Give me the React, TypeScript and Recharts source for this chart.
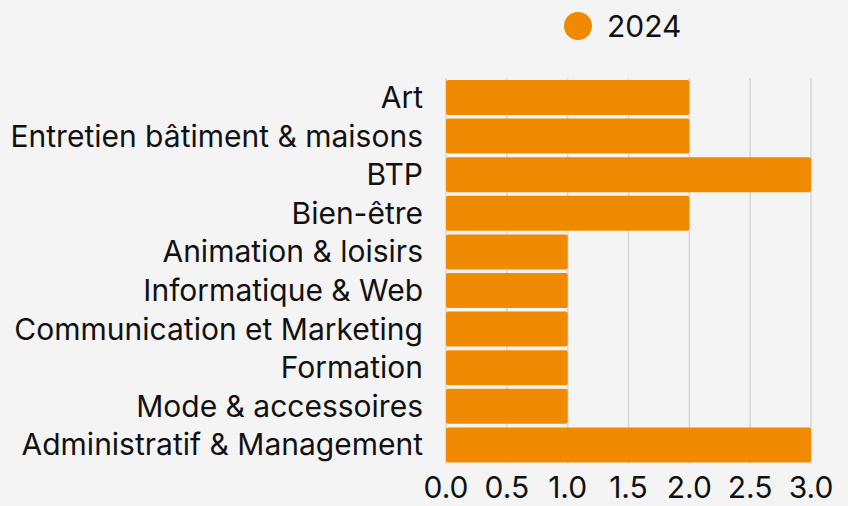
import { BarChart, Bar, XAxis, YAxis, CartesianGrid } from "recharts";

const categories = [
  "Art",
  "Entretien bâtiment & maisons",
  "BTP",
  "Bien-être",
  "Animation & loisirs",
  "Informatique & Web",
  "Communication et Marketing",
  "Formation",
  "Mode & accessoires",
  "Administratif & Management",
];
const values2024 = [2, 2, 3, 2, 1, 1, 1, 1, 1, 3];
const xTicks = [0, 0.5, 1, 1.5, 2, 2.5, 3];
const seriesName = "2024";

const ORANGE = "#f08a00";
const FONT = "Inter, sans-serif";

const data = categories.map((name, i) => ({ name, y2024: values2024[i] }));

export default function App() {
  return (
    <div style={{ position: "absolute", left: 0, top: 0, width: 848, height: 506, background: "#f4f4f4" }}>
      {/* legend */}
      <div
        style={{
          position: "absolute",
          left: 563,
          top: 11,
          display: "flex",
          alignItems: "center",
          fontFamily: FONT,
        }}
      >
        <svg width={30} height={30} style={{ marginRight: 14 }}>
          <circle cx={15} cy={15} r={14} fill={ORANGE} />
        </svg>
        <span style={{ fontSize: 30, color: "#111", lineHeight: "30px" }}>{seriesName}</span>
      </div>
      <BarChart
        width={848}
        height={506}
        data={data}
        layout="vertical"
        margin={{ top: 78, right: 37, left: 0, bottom: 0 }}
        barCategoryGap={2}
      >
        <CartesianGrid horizontal={false} stroke="#d6d6d6" strokeWidth={1.5} />
        <XAxis
          type="number"
          domain={[0, 3]}
          ticks={xTicks}
          tickFormatter={(v: number) => v.toFixed(1)}
          tick={{ fontSize: 30, fill: "#111", fontFamily: FONT }}
          tickLine={false}
          axisLine={false}
          height={42}
          tickMargin={7}
          interval={0}
        />
        <YAxis
          type="category"
          dataKey="name"
          width={446}
          tick={{ fontSize: 30, fill: "#111", fontFamily: FONT }}
          tickLine={false}
          axisLine={false}
          tickMargin={17}
          interval={0}
        />
        <Bar dataKey="y2024" name={seriesName} fill={ORANGE} radius={2} isAnimationActive={false} />
      </BarChart>
    </div>
  );
}
